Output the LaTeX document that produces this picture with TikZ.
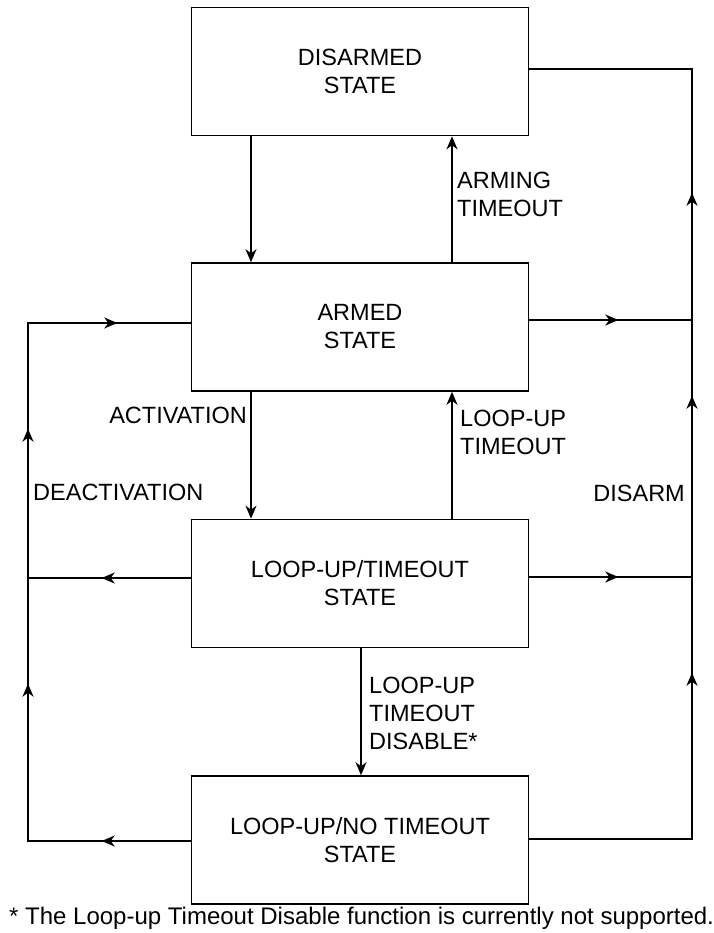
\documentclass[tikz,border=0pt]{standalone}
\usepackage{fontspec}
\setmainfont{Liberation Sans}
\usetikzlibrary{arrows.meta,decorations.markings}
\begin{document}
\begin{tikzpicture}[x=1pt,y=-1pt,
  every node/.style={font=\fontsize{23.5}{28}\selectfont},
  statebox/.style={draw,line width=1.6pt,minimum width=337pt,minimum height=128pt,align=center,inner sep=0pt},
  lbl/.style={inner sep=0pt,align=left},
  conn/.style={line width=1.6pt},
  >={Stealth[length=13pt,width=11pt,inset=4pt]},
  tip/.style={->},
  mk/.style={postaction={decorate},decoration={markings,#1}},
]
\useasboundingbox (0,0) rectangle (713,933);

% states
\node[statebox] (dis) at (360,71.5) {DISARMED\\STATE};
\node[statebox] (arm) at (360,327) {ARMED\\STATE};
\node[statebox] (lt)  at (360,583.5) {LOOP-UP/TIMEOUT\\STATE};
\node[statebox] (lnt) at (360,840) {LOOP-UP/NO TIMEOUT\\STATE};

% helper coordinates
\coordinate (xA) at (251,0);
\coordinate (xB) at (452,0);
\coordinate (xC) at (361,0);
\coordinate (yArmL) at (0,323);
\coordinate (yArmR) at (0,320);
\coordinate (yLtL) at (0,578);
\coordinate (yLtR) at (0,577);
\coordinate (yLntL) at (0,841);
\coordinate (yLntR) at (0,839);
\coordinate (yDis) at (0,69);
\coordinate (lbot) at (28,841);
\coordinate (ltop) at (28,323);
\coordinate (lmid) at (28,578);
\coordinate (rbot) at (692,839);
\coordinate (rtop) at (692,69);
\coordinate (rarm) at (692,320);
\coordinate (rlt) at (692,577);

% vertical transitions
\draw[conn,tip] (dis.south -| xA) -- (arm.north -| xA);
\draw[conn,tip] (arm.north -| xB) -- (dis.south -| xB);
\draw[conn,tip] (arm.south -| xA) -- (lt.north -| xA);
\draw[conn,tip] (lt.north -| xB) -- (arm.south -| xB);
\draw[conn,tip] (lt.south -| xC) -- (lnt.north -| xC);

% deactivation loop (left)
\draw[conn,mk={mark=at position 89pt with {\arrow{>}},
               mark=at position 320pt with {\arrow{>}},
               mark=at position 575pt with {\arrow{>}},
               mark=at position 770pt with {\arrow{>}}}]
  (lnt.west |- yLntL) -- (lbot) -- (ltop) -- (arm.west |- yArmL);
\draw[conn,mk={mark=at position 89pt with {\arrow{>}}}]
  (lt.west |- yLtL) -- (lmid);

% disarm loop (right)
\draw[conn,mk={mark=at position 329pt with {\arrow{>}},
               mark=at position 606pt with {\arrow{>}},
               mark=at position 809pt with {\arrow{>}}}]
  (lnt.east |- yLntR) -- (rbot) -- (rtop) -- (dis.east |- yDis);
\draw[conn,mk={mark=at position 89pt with {\arrow{>}}}]
  (arm.east |- yArmR) -- (rarm);
\draw[conn,mk={mark=at position 89pt with {\arrow{>}}}]
  (lt.east |- yLtR) -- (rlt);

% labels
\node[lbl,anchor=west] (l1) at (457,194) {ARMING\\TIMEOUT};
\node[lbl,anchor=east] (l2) at (247,415) {ACTIVATION};
\node[lbl,anchor=west] (l3) at (460,432) {LOOP-UP\\TIMEOUT};
\node[lbl,anchor=west] (l4) at (33,492) {DEACTIVATION};
\node[lbl,anchor=east] (l5) at (685,493) {DISARM};
\node[lbl,anchor=west] (l6) at (369,713) {LOOP-UP\\TIMEOUT\\DISABLE*};
\node[lbl,anchor=west,font=\fontsize{24}{28}\selectfont] (fn) at (9,918) {* The Loop-up Timeout Disable function is currently not supported.};
\end{tikzpicture}
\end{document}
